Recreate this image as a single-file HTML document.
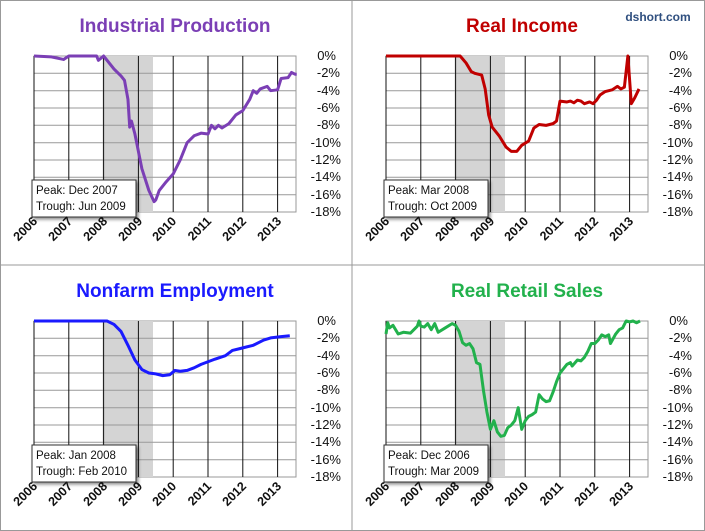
<!DOCTYPE html>
<html><head><meta charset="utf-8"><style>
body{margin:0;background:#fff;}
svg{display:block;font-family:"Liberation Sans",sans-serif;}
.yl{font-size:13px;fill:#111;text-anchor:end;}
.xl{font-size:12.5px;font-weight:bold;fill:#111;text-anchor:end;}
.tt{font-size:19px;font-weight:bold;text-anchor:middle;}
.an{font-size:11.5px;fill:#111;}
.ln{fill:none;stroke-width:3;stroke-linejoin:round;vector-effect:non-scaling-stroke;}
</style></head><body>
<svg width="705" height="531" viewBox="0 0 705 531">
<defs>
<filter id="sh" x="-10%" y="-10%" width="130%" height="140%"><feDropShadow dx="2" dy="2" stdDeviation="1.5" flood-color="#000" flood-opacity="0.45"/></filter>
<g id="grid">
<rect x="34" y="56" width="262" height="156" fill="#fff" stroke="#999" stroke-width="1"/>
<rect x="102.5" y="56" width="50.5" height="156" fill="#d4d4d4"/>
<g stroke="#999" stroke-width="1">
<line x1="34" x2="296" y1="73.3" y2="73.3"/><line x1="34" x2="296" y1="90.7" y2="90.7"/>
<line x1="34" x2="296" y1="108" y2="108"/><line x1="34" x2="296" y1="125.3" y2="125.3"/>
<line x1="34" x2="296" y1="142.7" y2="142.7"/><line x1="34" x2="296" y1="160" y2="160"/>
<line x1="34" x2="296" y1="177.3" y2="177.3"/><line x1="34" x2="296" y1="194.7" y2="194.7"/>
</g>
<g stroke="#111" stroke-width="1">
<line x1="34" x2="34" y1="56" y2="212"/><line x1="68.8" x2="68.8" y1="56" y2="212"/>
<line x1="103.6" x2="103.6" y1="56" y2="212"/><line x1="138.4" x2="138.4" y1="56" y2="212"/>
<line x1="173.2" x2="173.2" y1="56" y2="212"/><line x1="208" x2="208" y1="56" y2="212"/>
<line x1="242.8" x2="242.8" y1="56" y2="212"/><line x1="277.6" x2="277.6" y1="56" y2="212"/>
</g>
</g>
</defs>
<rect x="0.5" y="0.5" width="704" height="530" fill="#fff" stroke="#999"/>
<line x1="352" x2="352" y1="0" y2="531" stroke="#999"/>
<line x1="0" x2="705" y1="265" y2="265" stroke="#999"/>

<g transform="translate(0,0)">
<use href="#grid"/>
<polyline class="ln" stroke="#7b3fb5" transform="translate(34,56) scale(34.8,8.67)" points="0,0 0.5,0.1 0.85,0.4 1,0 1.8,0 1.85,0.5 2,0 2.3,1.5 2.5,2.3 2.6,2.8 2.7,5 2.75,8.2 2.8,7.5 2.9,9 3.1,13 3.3,15.5 3.45,16.8 3.5,16.6 3.6,15.5 3.8,14.5 4,13.6 4.2,12 4.4,10 4.6,9.2 4.8,8.9 5,9 5.1,8 5.2,8.4 5.3,8 5.4,8.3 5.6,7.8 5.8,6.8 6,6.3 6.2,5 6.3,4 6.4,4.3 6.5,3.8 6.7,3.5 6.8,4 7,3.9 7.1,2.6 7.3,2.5 7.4,1.9 7.5,2.1 7.55,2.1"/>
<text class="tt" x="175" y="32" fill="#7b3fb5">Industrial Production</text>
<g filter="url(#sh)"><rect x="32" y="180" width="104" height="37" fill="#fff" stroke="#333"/></g>
<text class="an" x="36" y="194">Peak: Dec 2007</text><text class="an" x="36" y="210">Trough: Jun 2009</text>
</g>

<g transform="translate(352,0)">
<use href="#grid"/>
<polyline class="ln" stroke="#c00000" transform="translate(34,56) scale(34.8,8.67)" points="0,0 2.13,0 2.3,0.8 2.45,1.8 2.55,2 2.65,2.1 2.75,2.2 2.85,3.8 2.95,6.8 3.05,8.2 3.25,9.2 3.45,10.5 3.6,11 3.76,11 3.9,10.3 4.1,9.8 4.25,8.3 4.4,7.9 4.6,8 4.8,7.8 4.9,7.5 5,5.2 5.2,5.3 5.3,5.2 5.4,5.4 5.5,5.1 5.6,5.2 5.7,5.5 5.85,5.3 5.95,5.5 6.05,5.1 6.15,4.5 6.3,4.1 6.5,3.9 6.65,3.5 6.75,3.8 6.85,3.6 6.95,0 7.05,5.5 7.15,4.8 7.27,3.8"/>
<text class="tt" x="170" y="32" fill="#c00000">Real Income</text>
<text x="306" y="21" font-size="12" font-weight="bold" fill="#2f4f7f" text-anchor="middle">dshort.com</text>
<g filter="url(#sh)"><rect x="32" y="180" width="104" height="37" fill="#fff" stroke="#333"/></g>
<text class="an" x="36" y="194">Peak: Mar 2008</text><text class="an" x="36" y="210">Trough: Oct 2009</text>
</g>

<g transform="translate(0,265)">
<use href="#grid"/>
<polyline class="ln" stroke="#1a1aff" transform="translate(34,56) scale(34.8,8.67)" points="0,0 2.1,0 2.3,0.4 2.5,1.2 2.7,2.8 2.9,4.5 3.1,5.6 3.3,6 3.5,6.1 3.7,6.3 3.9,6.2 4.05,5.7 4.2,5.8 4.4,5.7 4.6,5.4 4.8,5 5,4.7 5.2,4.4 5.5,4 5.7,3.4 5.9,3.2 6.1,3 6.3,2.8 6.6,2.2 6.8,1.95 7.1,1.8 7.35,1.7"/>
<text class="tt" x="175" y="32" fill="#1a1aff">Nonfarm Employment</text>
<g filter="url(#sh)"><rect x="32" y="180" width="104" height="37" fill="#fff" stroke="#333"/></g>
<text class="an" x="36" y="194">Peak: Jan 2008</text><text class="an" x="36" y="210">Trough: Feb 2010</text>
</g>

<g transform="translate(352,265)">
<use href="#grid"/>
<polyline class="ln" stroke="#22b14c" transform="translate(34,56) scale(34.8,8.67)" points="0,1.5 0.05,0.2 0.1,0.8 0.2,0.5 0.35,1.5 0.5,1.3 0.7,1.4 0.9,0.6 0.95,0 1,0.6 1.1,0.7 1.2,0.3 1.3,1 1.4,0.3 1.5,1.3 1.7,0.8 1.9,0.3 2,0.5 2.1,1.2 2.2,2.5 2.3,2.8 2.4,2.6 2.5,3.2 2.6,4.8 2.7,5 2.8,8 2.9,10.5 3,12.5 3.1,11.5 3.2,12.8 3.3,13.3 3.4,13.2 3.5,12.3 3.6,12 3.7,11.5 3.8,10 3.9,12.5 4,11.5 4.1,11 4.2,10.8 4.3,10.5 4.4,8.5 4.5,9 4.6,9.3 4.7,9.2 4.8,8.2 4.9,7 5,6 5.1,5.5 5.2,5 5.3,4.8 5.35,5.2 5.5,4.5 5.6,4.6 5.7,4.2 5.8,3.5 5.9,2.6 6,2.6 6.1,2.2 6.2,1.6 6.3,1.8 6.4,1.6 6.45,2.6 6.6,1.5 6.7,1 6.8,0.8 6.9,0 7,0.1 7.1,0 7.2,0.2 7.3,0"/>
<text class="tt" x="175" y="32" fill="#22b14c">Real Retail Sales</text>
<g filter="url(#sh)"><rect x="32" y="180" width="104" height="37" fill="#fff" stroke="#333"/></g>
<text class="an" x="36" y="194">Peak: Dec 2006</text><text class="an" x="36" y="210">Trough: Mar 2009</text>
</g>

<g transform="translate(0,0)">
<text class="yl" x="336" y="60">0%</text><text class="yl" x="340" y="77">-2%</text><text class="yl" x="340" y="95">-4%</text><text class="yl" x="340" y="112">-6%</text><text class="yl" x="340" y="129">-8%</text><text class="yl" x="341" y="147">-10%</text><text class="yl" x="341" y="164">-12%</text><text class="yl" x="341" y="181">-14%</text><text class="yl" x="341" y="199">-16%</text><text class="yl" x="341" y="216">-18%</text>
<text class="xl" transform="translate(38,222) rotate(-45)">2006</text><text class="xl" transform="translate(73,222) rotate(-45)">2007</text><text class="xl" transform="translate(108,222) rotate(-45)">2008</text><text class="xl" transform="translate(143,222) rotate(-45)">2009</text><text class="xl" transform="translate(177,222) rotate(-45)">2010</text><text class="xl" transform="translate(212,222) rotate(-45)">2011</text><text class="xl" transform="translate(247,222) rotate(-45)">2012</text><text class="xl" transform="translate(282,222) rotate(-45)">2013</text>
</g>
<g transform="translate(352,0)">
<text class="yl" x="336" y="60">0%</text><text class="yl" x="340" y="77">-2%</text><text class="yl" x="340" y="95">-4%</text><text class="yl" x="340" y="112">-6%</text><text class="yl" x="340" y="129">-8%</text><text class="yl" x="341" y="147">-10%</text><text class="yl" x="341" y="164">-12%</text><text class="yl" x="341" y="181">-14%</text><text class="yl" x="341" y="199">-16%</text><text class="yl" x="341" y="216">-18%</text>
<text class="xl" transform="translate(38,222) rotate(-45)">2006</text><text class="xl" transform="translate(73,222) rotate(-45)">2007</text><text class="xl" transform="translate(108,222) rotate(-45)">2008</text><text class="xl" transform="translate(143,222) rotate(-45)">2009</text><text class="xl" transform="translate(177,222) rotate(-45)">2010</text><text class="xl" transform="translate(212,222) rotate(-45)">2011</text><text class="xl" transform="translate(247,222) rotate(-45)">2012</text><text class="xl" transform="translate(282,222) rotate(-45)">2013</text>
</g>
<g transform="translate(0,265)">
<text class="yl" x="336" y="60">0%</text><text class="yl" x="340" y="77">-2%</text><text class="yl" x="340" y="95">-4%</text><text class="yl" x="340" y="112">-6%</text><text class="yl" x="340" y="129">-8%</text><text class="yl" x="341" y="147">-10%</text><text class="yl" x="341" y="164">-12%</text><text class="yl" x="341" y="181">-14%</text><text class="yl" x="341" y="199">-16%</text><text class="yl" x="341" y="216">-18%</text>
<text class="xl" transform="translate(38,222) rotate(-45)">2006</text><text class="xl" transform="translate(73,222) rotate(-45)">2007</text><text class="xl" transform="translate(108,222) rotate(-45)">2008</text><text class="xl" transform="translate(143,222) rotate(-45)">2009</text><text class="xl" transform="translate(177,222) rotate(-45)">2010</text><text class="xl" transform="translate(212,222) rotate(-45)">2011</text><text class="xl" transform="translate(247,222) rotate(-45)">2012</text><text class="xl" transform="translate(282,222) rotate(-45)">2013</text>
</g>
<g transform="translate(352,265)">
<text class="yl" x="336" y="60">0%</text><text class="yl" x="340" y="77">-2%</text><text class="yl" x="340" y="95">-4%</text><text class="yl" x="340" y="112">-6%</text><text class="yl" x="340" y="129">-8%</text><text class="yl" x="341" y="147">-10%</text><text class="yl" x="341" y="164">-12%</text><text class="yl" x="341" y="181">-14%</text><text class="yl" x="341" y="199">-16%</text><text class="yl" x="341" y="216">-18%</text>
<text class="xl" transform="translate(38,222) rotate(-45)">2006</text><text class="xl" transform="translate(73,222) rotate(-45)">2007</text><text class="xl" transform="translate(108,222) rotate(-45)">2008</text><text class="xl" transform="translate(143,222) rotate(-45)">2009</text><text class="xl" transform="translate(177,222) rotate(-45)">2010</text><text class="xl" transform="translate(212,222) rotate(-45)">2011</text><text class="xl" transform="translate(247,222) rotate(-45)">2012</text><text class="xl" transform="translate(282,222) rotate(-45)">2013</text>
</g>
</svg>
</body></html>
